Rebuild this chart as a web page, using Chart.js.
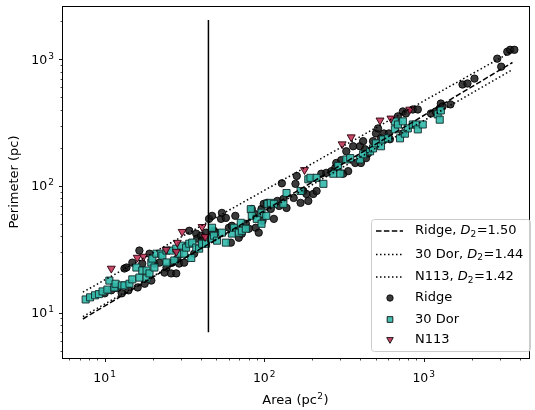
<!DOCTYPE html>
<html>
<head>
<meta charset="utf-8">
<script src="https://cdn.jsdelivr.net/npm/chart.js@4/dist/chart.umd.min.js"></script>
<style>
  html, body { margin: 0; padding: 0; background: #fff; }
  #wrap { width: 535px; height: 410px; }
</style>
</head>
<body>
<div id="wrap"><canvas id="chart" width="535" height="410"></canvas></div>
<script>
// ---- data ----
// Ridge clouds (area pc^2, perimeter pc)
const ridgeArea = [10, 11.0, 12.0, 12.8, 14.1, 13.3, 13.7, 14.9, 16.1, 16.5,
    17.2, 17.8, 19.1, 19.6, 20.5, 22.0, 23.7, 24.4, 26.1, 26.5,
    28.1, 28.5, 29.3, 31.5, 32.4, 33.9, 36.4, 37.5, 38.0, 40.2,
    40.8, 43.2, 45.1, 47.1, 48.4, 49.8, 53.6, 54.3, 57.5, 60.1,
    61.8, 62.7, 65.9, 69.3, 72.4, 76.7, 80.1, 83.6, 88.5, 88.5,
    92.4, 96.2, 97.6, 99.3, 104, 110, 115, 121, 124, 129,
    132, 138, 153, 157, 160, 169, 176, 184, 189, 203,
    213, 228, 245, 264, 279, 283, 304, 313, 327, 336,
    361, 372, 398, 404, 417, 429, 435, 448, 481, 502,
    517, 540, 563, 605, 614, 689, 740, 740, 773, 854,
    918, 1110, 1190, 1260, 1280, 1313, 1470, 1750, 1880, 2080,
    2890, 3060, 3340, 3480, 3700];
const ridgePerim = [14.2, 15.0, 15.6, 14.2, 15.0, 22.3, 22.7, 24.8, 15.8, 30.9,
    24.4, 16.9, 29.2, 17.9, 24.4, 24.8, 20.7, 22.7, 20.4, 24.8,
    20.4, 26.7, 24.4, 24.8, 33.5, 44.3, 29.2, 42.0, 38.4, 40.5,
    37.0, 42.8, 55.0, 58.1, 44.3, 42.8, 55.0, 61.3, 56.0, 46.8,
    35.7, 48.5, 58.1, 39.0, 42.0, 50.3, 46.0, 65.9, 59.8, 46.8,
    42.8, 65.9, 53.1, 72.3, 73.6, 65.9, 55.0, 76.2, 69.6, 105,
    79.0, 67.1, 80.5, 104, 120, 73.6, 91.3, 86.5, 76.2, 86.5,
    91.3, 125, 127, 131, 139, 152, 160, 125, 188, 131,
    206, 152, 206, 152, 226, 195, 166, 181, 226, 260,
    285, 238, 260, 260, 234, 355, 388, 260, 374, 402,
    402, 374, 388, 410, 448, 425, 441, 633, 645, 705,
    1013, 876, 1149, 1190, 1190];

// 30 Dor clouds
const dorArea = [7.6, 8.1, 8.7, 9.2, 9.7, 10.4, 10.7, 11.5, 11.7, 12.8,
    13.3, 14.3, 14.9, 15.8, 16.5, 17.2, 18.3, 18.3, 19.1, 19.6,
    19.9, 20.5, 21.1, 22.6, 23.0, 24.4, 24.4, 26.1, 27.3, 28.1,
    29.3, 30.2, 31.5, 32.4, 33.9, 34.9, 35.4, 37.5, 39.1, 40.8,
    43.2, 46.4, 47.1, 48.4, 50.6, 54.3, 57.5, 62.7, 64.6, 69.3,
    71.3, 72.4, 76.7, 82.4, 83.6, 89.8, 96.2, 96.2, 103, 105,
    110, 115, 132, 138, 169, 189, 195, 213, 235, 271,
    291, 300, 327, 346, 398, 417, 461, 481, 502, 540,
    555, 597, 659, 659, 689, 710, 740, 762, 795, 854,
    893, 918, 986, 1223, 1260, 1280];
const dorPerim = [12.7, 13.2, 13.7, 14.0, 14.7, 15.2, 17.9, 15.8, 16.9, 16.4,
    16.4, 16.9, 18.3, 22.7, 18.9, 21.5, 18.6, 21.5, 20.4, 24.9,
    26.7, 22.7, 29.2, 29.2, 28.2, 30.9, 24.9, 30.9, 25.8, 32.0,
    29.2, 33.8, 29.2, 32.6, 35.0, 27.0, 35.7, 32.6, 32.0, 35.0,
    35.0, 38.4, 46.8, 40.5, 37.0, 42.8, 35.7, 42.1, 46.8, 42.8,
    51.2, 44.3, 46.0, 65.6, 58.1, 55.0, 61.5, 50.3, 58.1, 72.3,
    73.6, 72.3, 72.3, 88, 91.3, 113, 116, 116, 104, 125,
    144, 125, 162, 166, 162, 178, 188, 198, 217, 206,
    233, 238, 280, 324, 306, 238, 324, 259, 285, 306,
    306, 280, 306, 368, 334, 395];

// N113 clouds
const n113Area = [11.0, 16.0, 17.5, 24.3, 28.1, 28.5, 30.6, 40.8, 42.6, 179, 308, 351, 532, 623, 818];
const n113Perim = [22.3, 27.2, 27.7, 31.4, 30.3, 35.7, 43.5, 47.6, 39.7, 134, 214, 243, 330, 342, 402];

// fitted power laws, end points
const fitArea = [7.3, 3600];
const ridgeFit = [8.9, 945];
const dorFit = [9.3, 830];
const n113Fit = [14.5, 1160];

// resolution cut
const cutArea = [44.7, 44.7];
const cutPerim = [7.0, 2050];

// axes
const xRange = [5.4, 4570];
const yRange = [4.38, 2640];
const tickExponents = [1, 2, 3];

const legendRows = [
    { kind: 'line', dash: [5.5, 2.4], name: 'Ridge, ', d2: '1.50' },
    { kind: 'line', dash: [1.5, 2.5], name: '30 Dor, ', d2: '1.44' },
    { kind: 'line', dash: [1.5, 2.5], name: 'N113, ', d2: '1.42' },
    { kind: 'point', style: 'circle', name: 'Ridge' },
    { kind: 'point', style: 'rect', name: '30 Dor' },
    { kind: 'point', style: 'triangle', name: 'N113' }
];

const FONT = '"DejaVu Sans", sans-serif';
const RIDGE_FILL = 'rgba(25,25,25,0.85)';
const DOR_FILL = 'rgba(50,185,170,0.9)';
const N113_FILL = 'rgba(190,40,78,0.85)';

function toPoints(xs, ys) {
    return xs.map((v, i) => ({ x: v, y: ys[i] }));
}

function lineSet(xs, ys, dash, order) {
    return {
        data: toPoints(xs, ys),
        showLine: true,
        borderColor: '#000',
        borderWidth: 1.5,
        borderDash: dash,
        pointRadius: 0,
        fill: false,
        order: order
    };
}

// "10" with a superscript exponent
function drawPow(ctx, exp, x, y, align) {
    ctx.font = '12.5px ' + FONT;
    const wBase = ctx.measureText('10').width;
    ctx.font = '9px ' + FONT;
    const wExp = ctx.measureText(String(exp)).width;
    const total = wBase + wExp + 1;
    let left = align === 'center' ? x - total / 2 : x - total;
    ctx.textAlign = 'left';
    ctx.textBaseline = 'alphabetic';
    ctx.font = '12.5px ' + FONT;
    ctx.fillText('10', left, y);
    ctx.font = '9px ' + FONT;
    ctx.fillText(String(exp), left + wBase + 1, y - 5);
}

const axisDecor = {
    id: 'axisDecor',
    afterDraw(chart) {
        const { ctx, chartArea: a, scales } = chart;
        const xs = scales.x, ys = scales.y;
        ctx.save();
        ctx.fillStyle = '#000';
        ctx.strokeStyle = '#000';

        // frame
        ctx.lineWidth = 1;
        ctx.strokeRect(Math.round(a.left) + 0.5, Math.round(a.top) + 0.5,
            Math.round(a.right - a.left), Math.round(a.bottom - a.top));

        // ticks
        const bottom = Math.round(a.bottom) + 0.5;
        const left = Math.round(a.left) + 0.5;
        for (let e = 0; e <= 3; e++) {
            for (let k = 1; k <= 9; k++) {
                const v = k * Math.pow(10, e);
                const len = k === 1 ? 3.5 : 2;
                ctx.lineWidth = k === 1 ? 0.9 : 0.7;
                if (v >= xRange[0] && v <= xRange[1]) {
                    const px = Math.round(xs.getPixelForValue(v)) + 0.5;
                    ctx.beginPath();
                    ctx.moveTo(px, bottom);
                    ctx.lineTo(px, bottom + len);
                    ctx.stroke();
                }
                if (v >= yRange[0] && v <= yRange[1]) {
                    const py = Math.round(ys.getPixelForValue(v)) + 0.5;
                    ctx.beginPath();
                    ctx.moveTo(left, py);
                    ctx.lineTo(left - len, py);
                    ctx.stroke();
                }
            }
        }

        // tick labels
        tickExponents.forEach(e => {
            const v = Math.pow(10, e);
            drawPow(ctx, e, xs.getPixelForValue(v), a.bottom + 24, 'center');
            drawPow(ctx, e, a.left - 8, ys.getPixelForValue(v) + 4.5, 'right');
        });

        // axis titles
        ctx.font = '13px ' + FONT;
        ctx.textBaseline = 'middle';
        ctx.textAlign = 'center';
        ctx.save();
        ctx.translate(15, (a.top + a.bottom) / 2);
        ctx.rotate(-Math.PI / 2);
        ctx.fillText('Perimeter (pc)', 0, 0);
        ctx.restore();

        ctx.textAlign = 'left';
        ctx.textBaseline = 'alphabetic';
        const p1 = 'Area (pc', p2 = '2', p3 = ')';
        ctx.font = '13px ' + FONT;
        const w1 = ctx.measureText(p1).width, w3 = ctx.measureText(p3).width;
        ctx.font = '9px ' + FONT;
        const w2 = ctx.measureText(p2).width;
        let tx = (a.left + a.right) / 2 - (w1 + w2 + w3 + 1) / 2;
        const ty = 404;
        ctx.font = '13px ' + FONT;
        ctx.fillText(p1, tx, ty);
        ctx.font = '9px ' + FONT;
        ctx.fillText(p2, tx + w1 + 0.5, ty - 5);
        ctx.font = '13px ' + FONT;
        ctx.fillText(p3, tx + w1 + w2 + 1, ty);

        // legend
        const bx = 371.5, by = 219.5, bw = 159, bh = 132;
        ctx.beginPath();
        ctx.roundRect(bx, by, bw, bh, 3);
        ctx.fillStyle = 'rgba(255,255,255,0.8)';
        ctx.fill();
        ctx.strokeStyle = '#cccccc';
        ctx.lineWidth = 1;
        ctx.stroke();

        const rowY = [231, 254.5, 277, 298, 319.5, 339.5];
        const textX = 415;
        legendRows.forEach((r, i) => {
            const ry = rowY[i];
            ctx.strokeStyle = '#000';
            ctx.fillStyle = '#000';
            if (r.kind === 'line') {
                ctx.save();
                ctx.lineWidth = 1.5;
                ctx.setLineDash(r.dash);
                ctx.beginPath();
                ctx.moveTo(376, ry);
                ctx.lineTo(403, ry);
                ctx.stroke();
                ctx.restore();
            } else {
                const fills = { circle: RIDGE_FILL, rect: DOR_FILL, triangle: N113_FILL };
                const radii = { circle: 3.2, rect: 4.0, triangle: 3.8 };
                ctx.fillStyle = fills[r.style];
                ctx.strokeStyle = 'rgba(0,0,0,0.85)';
                ctx.lineWidth = 1;
                Chart.helpers.drawPoint(ctx, {
                    pointStyle: r.style,
                    radius: radii[r.style],
                    rotation: r.style === 'triangle' ? 180 : 0,
                    borderWidth: 1
                }, 390, ry);
                ctx.fillStyle = '#000';
            }
            ctx.textAlign = 'left';
            ctx.textBaseline = 'middle';
            ctx.font = '13px ' + FONT;
            let cx = textX;
            ctx.fillText(r.name, cx, ry);
            cx += ctx.measureText(r.name).width;
            if (r.d2) {
                ctx.font = 'italic 13px ' + FONT;
                ctx.fillText('D', cx, ry);
                cx += ctx.measureText('D').width;
                ctx.font = '9px ' + FONT;
                ctx.fillText('2', cx, ry + 3.5);
                cx += ctx.measureText('2').width + 0.5;
                ctx.font = '13px ' + FONT;
                ctx.fillText('=' + r.d2, cx, ry);
            }
        });
        ctx.restore();
    }
};

new Chart(document.getElementById('chart'), {
    type: 'scatter',
    data: {
        datasets: [
            {
                label: 'Ridge',
                data: toPoints(ridgeArea, ridgePerim),
                pointStyle: 'circle',
                pointRadius: 3.7,
                backgroundColor: RIDGE_FILL,
                borderColor: 'rgba(0,0,0,0.85)',
                borderWidth: 1,
                order: 6
            },
            {
                label: '30 Dor',
                data: toPoints(dorArea, dorPerim),
                pointStyle: 'rect',
                pointRadius: 5,
                backgroundColor: DOR_FILL,
                borderColor: 'rgba(15,40,40,0.9)',
                borderWidth: 1,
                order: 5
            },
            {
                label: 'N113',
                data: toPoints(n113Area, n113Perim),
                pointStyle: 'triangle',
                rotation: 180,
                pointRadius: 4.6,
                backgroundColor: N113_FILL,
                borderColor: 'rgba(40,0,10,0.9)',
                borderWidth: 1,
                order: 4
            },
            lineSet(fitArea, ridgeFit, [5.5, 2.4], 3),
            lineSet(fitArea, dorFit, [1.5, 2.5], 2),
            lineSet(fitArea, n113Fit, [1.5, 2.5], 1),
            lineSet(cutArea, cutPerim, [], 0)
        ]
    },
    options: {
        responsive: false,
        animation: false,
        devicePixelRatio: 1,
        layout: { padding: { left: 62, right: 3, top: 4, bottom: 52 } },
        plugins: {
            legend: { display: false },
            tooltip: { enabled: false }
        },
        scales: {
            x: { type: 'logarithmic', min: xRange[0], max: xRange[1], display: false },
            y: { type: 'logarithmic', min: yRange[0], max: yRange[1], display: false }
        }
    },
    plugins: [axisDecor]
});
</script>
</body>
</html>
